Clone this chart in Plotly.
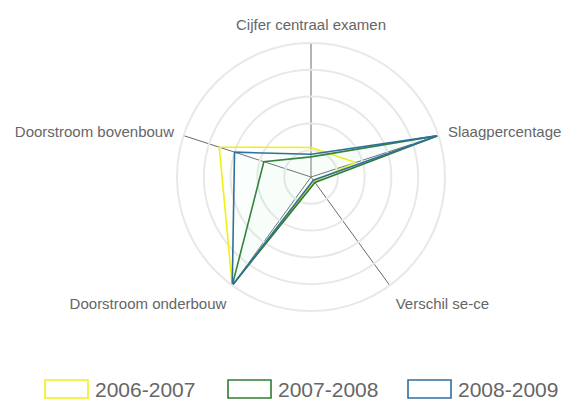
import plotly.graph_objects as go

axes = ["Cijfer centraal examen", "Slaagpercentage", "Verschil se-ce",
        "Doorstroom onderbouw", "Doorstroom bovenbouw"]
series_names = ["2006-2007", "2007-2008", "2008-2009"]
v_2006_2007 = [22, 35, 4, 100, 72]
v_2007_2008 = [15, 100, 5, 100, 37]
v_2008_2009 = [17, 100, 3, 100, 60]
series_values = [v_2006_2007, v_2007_2008, v_2008_2009]
line_colors = ["#f0f014", "#2f7d32", "#2f6fa0"]
fill_colors = ["rgba(255,255,150,0.03)", "rgba(150,230,150,0.03)", "rgba(170,235,255,0.06)"]

W, H = 566, 405
cx, cy, R = 311, 177, 134

fig = go.Figure()
for name, vals, lc, fc in zip(series_names, series_values, line_colors, fill_colors):
    fig.add_trace(go.Scatterpolar(
        r=vals + [vals[0]], theta=axes + [axes[0]], name=name,
        mode="lines", line=dict(color=lc, width=1.6),
        fill="toself", fillcolor=fc, showlegend=False))

fig.update_layout(
    width=W, height=H, margin=dict(l=0, r=0, t=0, b=0),
    paper_bgcolor="white", plot_bgcolor="white",
    font=dict(family="Liberation Sans, Arial, sans-serif", color="#666666"),
    polar=dict(
        domain=dict(x=[(cx - R) / W, (cx + R) / W], y=[1 - (cy + R) / H, 1 - (cy - R) / H]),
        bgcolor="white",
        radialaxis=dict(range=[0, 100], dtick=20, showticklabels=False, ticks="",
                        showline=False, gridcolor="#e8e8e8", gridwidth=2),
        angularaxis=dict(rotation=90, direction="clockwise", showline=True,
                         linecolor="#e8e8e8", linewidth=2, gridcolor="#6a6a6a", gridwidth=1.3,
                         ticks="outside", ticklen=6, tickcolor="rgba(0,0,0,0)",
                         tickfont=dict(size=15, color="#666666")),
    ),
)

# custom legend (boxes + labels)
box_x = [45, 228, 408]
bw, bh = 43, 18
ly = 389
for x0, name, lc in zip(box_x, series_names, line_colors):
    fig.add_shape(type="rect", xref="paper", yref="paper",
                  x0=x0 / W, x1=(x0 + bw) / W, y0=1 - (ly + bh / 2) / H, y1=1 - (ly - bh / 2) / H,
                  line=dict(color=lc, width=1.6), fillcolor="white")
    fig.add_annotation(x=(x0 + bw + 5) / W, y=1 - ly / H, xref="paper", yref="paper",
                       text=name, showarrow=False, xanchor="left", yanchor="middle",
                       font=dict(size=21, color="#666666"))

fig.write_html("out.html")
